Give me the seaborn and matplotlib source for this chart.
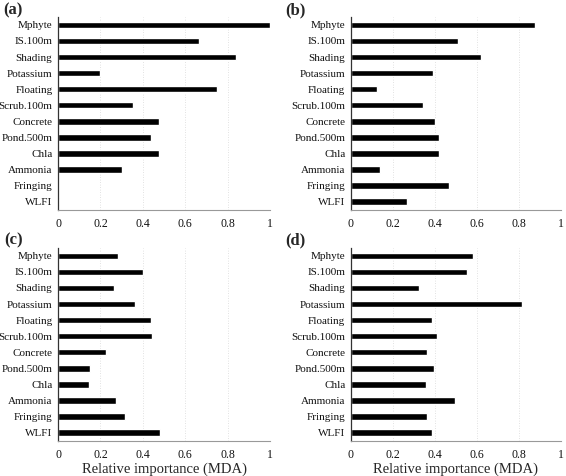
import numpy as np
import pandas as pd
import matplotlib
matplotlib.use("Agg")
import matplotlib.pyplot as plt
import seaborn as sns

variables = ["Mphyte", "IS.100m", "Shading", "Potassium", "Floating", "Scrub.100m",
             "Concrete", "Pond.500m", "Chla", "Ammonia", "Fringing", "WLFI"]

mda_a = [1.0, 0.664, 0.84, 0.196, 0.751, 0.354, 0.477, 0.44, 0.477, 0.304, 0.0, 0.006]
mda_b = [0.876, 0.511, 0.619, 0.389, 0.125, 0.344, 0.402, 0.419, 0.419, 0.14, 0.467, 0.265]
mda_c = [0.285, 0.40, 0.266, 0.365, 0.44, 0.444, 0.224, 0.149, 0.144, 0.274, 0.318, 0.48]
mda_d = [0.579, 0.551, 0.322, 0.814, 0.386, 0.411, 0.363, 0.397, 0.356, 0.495, 0.363, 0.386]

panel_labels = ["(a)", "(b)", "(c)", "(d)"]
x_ticks = [0, 0.2, 0.4, 0.6, 0.8, 1]
x_ticklabels = ["0", "0.2", "0.4", "0.6", "0.8", "1"]

sns.set_style("white")
plt.rcParams["font.family"] = ["Liberation Serif", "DejaVu Serif"]

fig = plt.figure(figsize=(5.66, 4.76), dpi=100)

# axes boxes in figure fractions (left, bottom, width, height)
boxes = [
    (0.1025, 0.5595, 0.3746, 0.405),
    (0.6201, 0.5595, 0.3710, 0.405),
    (0.1025, 0.0744, 0.3746, 0.405),
    (0.6201, 0.0744, 0.3710, 0.405),
]
label_pos = [(0.005, 0.995), (0.504, 0.995), (0.008, 0.512), (0.504, 0.512)]

for i, values in enumerate([mda_a, mda_b, mda_c, mda_d]):
    ax = fig.add_axes(boxes[i])
    df = pd.DataFrame({"variable": variables, "mda": values})
    sns.barplot(data=df, x="mda", y="variable", orient="h", color="black",
                width=0.4, ax=ax, saturation=1)
    ax.set_xlim(0, 1)
    ax.set_ylim(len(variables) - 0.5, -0.5)

    # category labels at centres, tick marks at the boundaries
    ax.set_yticks(np.arange(len(variables)), labels=variables, minor=True)
    ax.set_yticks(np.arange(len(variables) + 1) - 0.5, labels=[])
    ax.tick_params(axis="y", which="minor", length=0, pad=4, labelsize=8,
                   labelcolor="#111111")
    ax.tick_params(axis="y", which="major", length=3, width=0.8, color="#444444",
                   direction="out")

    ax.set_xticks(x_ticks, labels=x_ticklabels)
    ax.tick_params(axis="x", length=2, width=0.6, color="#888888", labelsize=8.5,
                   pad=4, labelcolor="#111111")

    ax.grid(axis="x", color="#d8d8d8", linestyle=(0, (1, 2)), linewidth=0.6)
    ax.set_axisbelow(True)
    for side in ["top", "right"]:
        ax.spines[side].set_visible(False)
    ax.spines["left"].set_color("#333333")
    ax.spines["left"].set_linewidth(0.9)
    ax.spines["bottom"].set_color("#999999")
    ax.spines["bottom"].set_linewidth(0.8)

    ax.set_ylabel("")
    if i >= 2:
        ax.set_xlabel("Relative importance (MDA)", fontsize=10.5, labelpad=1)
    else:
        ax.set_xlabel("")

    fig.text(label_pos[i][0], label_pos[i][1], panel_labels[i], fontsize=12,
             fontweight="bold", ha="left", va="top")

fig.savefig("out.png", dpi=100)
